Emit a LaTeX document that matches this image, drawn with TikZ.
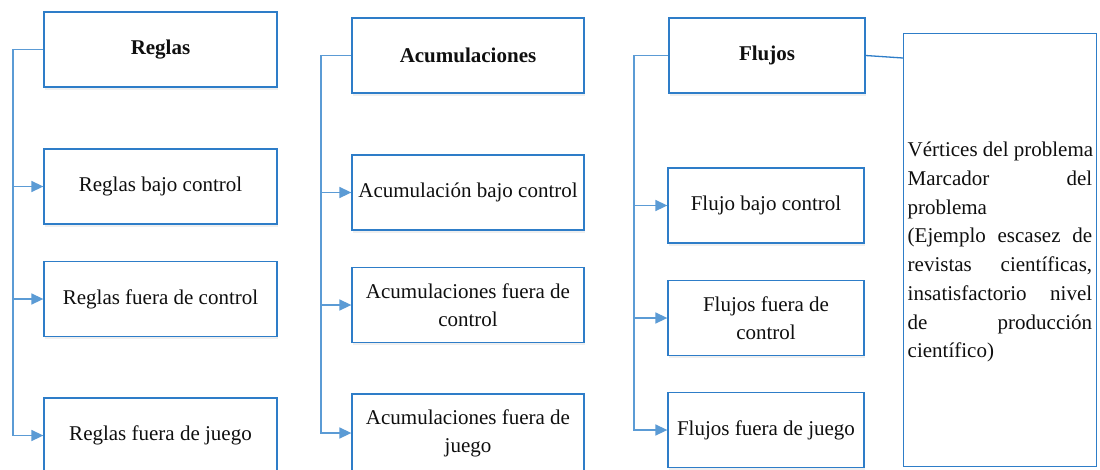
\documentclass[tikz,border=0pt]{standalone}
\usepackage{fontspec}
\setmainfont{Liberation Serif}
\usetikzlibrary{arrows.meta,shadows}
\definecolor{boxblue}{RGB}{46,125,200}
\definecolor{linkblue}{RGB}{91,155,213}
\definecolor{txt}{RGB}{15,15,15}
\tikzset{
  box/.style={draw=boxblue, line width=1.3pt, fill=white, rectangle, inner sep=2pt,
    text=txt, font=\fontsize{21}{28}\selectfont, align=center,
    drop shadow={opacity=0.12, shadow xshift=0.6pt, shadow yshift=-2.5pt}},
  col1/.style={box, minimum width=233pt, minimum height=75pt},
  col2/.style={box, minimum width=232pt, minimum height=75pt},
  col3/.style={box, minimum width=196pt, minimum height=75pt},
  title/.style={font=\fontsize{21}{24}\selectfont\bfseries},
  link/.style={draw=linkblue, line width=1.5pt},
  arr/.style={link, -{Triangle[length=12pt,width=11pt]}},
}
\begin{document}
\begin{tikzpicture}[x=1pt,y=-1pt]
\clip (0,0) rectangle (1100,469);
\fill[white] (0,0) rectangle (1100,469);
% column 1
\node[col1,title] (R0) at (160.5,49.5) {Reglas};
\node[col1] (R1) at (160.5,186.5) {Reglas bajo control};
\node[col1] (R2) at (160.5,299) {Reglas fuera de control};
\node[col1] (R3) at (160.5,435.5) {Reglas fuera de juego};
% column 2
\node[col2,title] (A0) at (468,55.5) {Acumulaciones};
\node[col2] (A1) at (468,192.5) {Acumulación bajo control};
\node[col2] (A2) at (468,305) {Acumulaciones fuera de\\control};
\node[col2, minimum height=78pt] (A3) at (468,433) {Acumulaciones fuera de\\juego};
% column 3
\node[col3,title] (F0) at (767,55.5) {Flujos};
\node[col3] (F1) at (766,205.5) {Flujo bajo control};
\node[col3] (F2) at (766,318) {Flujos fuera de\\control};
\node[col3] (F3) at (766,430) {Flujos fuera de juego};
% right box
\node[draw=boxblue, line width=1.3pt, rectangle, minimum width=193pt, minimum height=433pt, anchor=north west, inner sep=0pt] (V) at (903,33) {};
\node[anchor=north west, inner sep=0pt, align=left, text=txt, font=\fontsize{21}{28.7}\selectfont] (Vt) at (907.5,142) {%
\makebox[184.5pt][l]{Vértices del problema}\\
\makebox[184.5pt][l]{Marcador\hfill del}\\
\makebox[184.5pt][l]{problema}\\
\makebox[184.5pt][l]{(Ejemplo\hfill escasez\hfill de}\\
\makebox[184.5pt][l]{revistas\hfill científicas,}\\
\makebox[184.5pt][l]{insatisfactorio\hfill nivel}\\
\makebox[184.5pt][l]{de\hfill producción}\\
\makebox[184.5pt][l]{científico)}};
% trunks
\coordinate (T1) at (13,0);
\coordinate (T2) at (321,0);
\coordinate (T3) at (634,0);
\draw[arr] (R0.west) -| (T1 |- R3.west) -- (R3.west);
\draw[arr] (T1 |- R1.west) -- (R1.west);
\draw[arr] (T1 |- R2.west) -- (R2.west);
\draw[arr] (A0.west) -| (T2 |- A3.west) -- (A3.west);
\draw[arr] (T2 |- A1.west) -- (A1.west);
\draw[arr] (T2 |- A2.west) -- (A2.west);
\draw[arr] (F0.west) -| (T3 |- F3.west) -- (F3.west);
\draw[arr] (T3 |- F1.west) -- (F1.west);
\draw[arr] (T3 |- F2.west) -- (F2.west);
\draw[draw=boxblue, line width=1.3pt] (F0.east) -- ([yshift=-25pt]V.north west);
\end{tikzpicture}
\end{document}
